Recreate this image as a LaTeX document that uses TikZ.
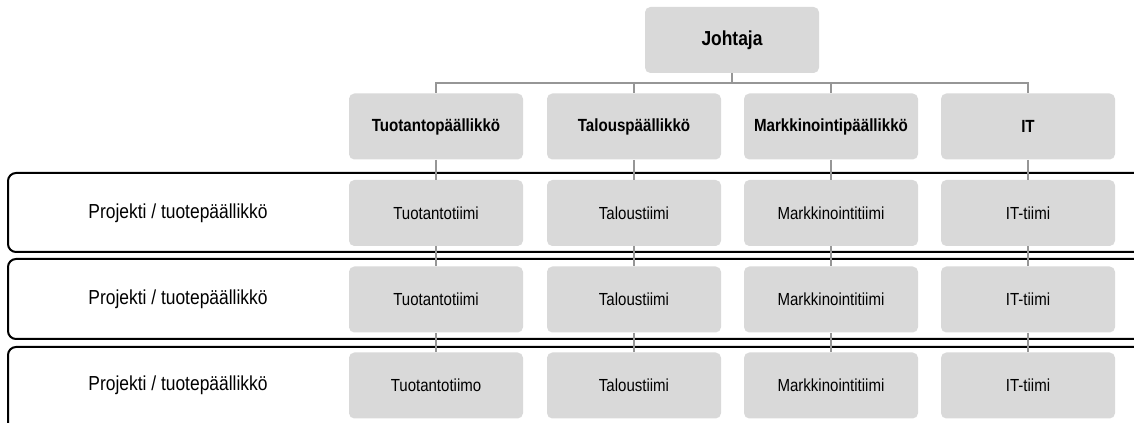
\documentclass[tikz,border=0pt]{standalone}
\usepackage{fontspec}
\setmainfont{Liberation Sans}[FakeStretch=0.86]
\definecolor{boxgray}{RGB}{217,217,217}
\definecolor{linkgray}{RGB}{150,150,150}
\begin{document}
\begin{tikzpicture}[x=0.75pt,y=-0.75pt,
  box/.style={fill=boxgray, rounded corners=4pt, minimum width=130.5pt,
    minimum height=49.5pt, inner sep=0pt, align=center},
  boss/.style={box, font=\bfseries\fontsize{15.2pt}{18pt}\selectfont},
  head/.style={box, font=\bfseries\fontsize{13.2pt}{16pt}\selectfont},
  team/.style={box, font=\fontsize{13.1pt}{16pt}\selectfont},
  lane/.style={draw=black, line width=1.5pt, rounded corners=6pt},
  link/.style={draw=linkgray, line width=1.5pt},
  lanelabel/.style={font=\fontsize{15.2pt}{18pt}\selectfont, inner sep=0pt}]
\useasboundingbox (0,0) rectangle (1134,423);
\clip (0,0) rectangle (1134,423);

% project lanes
\draw[lane] (8,173) rectangle (1160,252);
\draw[lane] (8,259) rectangle (1160,339);
\draw[lane] (8,347) rectangle (1160,440);

% lane titles
\node[lanelabel] (p1) at (178,213) {Projekti / tuotepäällikkö};
\node[lanelabel] (p2) at (178,299.5) {Projekti / tuotepäällikkö};
\node[lanelabel] (p3) at (178,385.5) {Projekti / tuotepäällikkö};

% management
\node[boss] (ceo) at (732,40) {Johtaja};
\node[head] (h1) at (436,126.5) {Tuotantopäällikkö};
\node[head] (h2) at (634,126.5) {Talouspäällikkö};
\node[head] (h3) at (831,126.5) {Markkinointipäällikkö};
\node[head] (h4) at (1028,126.5) {IT};

% teams
\node[team] (a1) at (436,213) {Tuotantotiimi};
\node[team] (b1) at (634,213) {Taloustiimi};
\node[team] (c1) at (831,213) {Markkinointitiimi};
\node[team] (d1) at (1028,213) {IT-tiimi};
\node[team] (a2) at (436,299.5) {Tuotantotiimi};
\node[team] (b2) at (634,299.5) {Taloustiimi};
\node[team] (c2) at (831,299.5) {Markkinointitiimi};
\node[team] (d2) at (1028,299.5) {IT-tiimi};
\node[team] (a3) at (436,385.5) {Tuotantotiimo};
\node[team] (b3) at (634,385.5) {Taloustiimi};
\node[team] (c3) at (831,385.5) {Markkinointitiimi};
\node[team] (d3) at (1028,385.5) {IT-tiimi};

% reporting lines
\foreach \h in {h1,h2,h3,h4}
  \draw[link] (ceo.south) -- ++(0,10) -| (\h.north);
\foreach \h/\t in {h1/a,h2/b,h3/c,h4/d}{
  \draw[link] (\h.south) -- (\t1.north);
  \draw[link] (\t1.south) -- (\t2.north);
  \draw[link] (\t2.south) -- (\t3.north);
}
\end{tikzpicture}
\end{document}
